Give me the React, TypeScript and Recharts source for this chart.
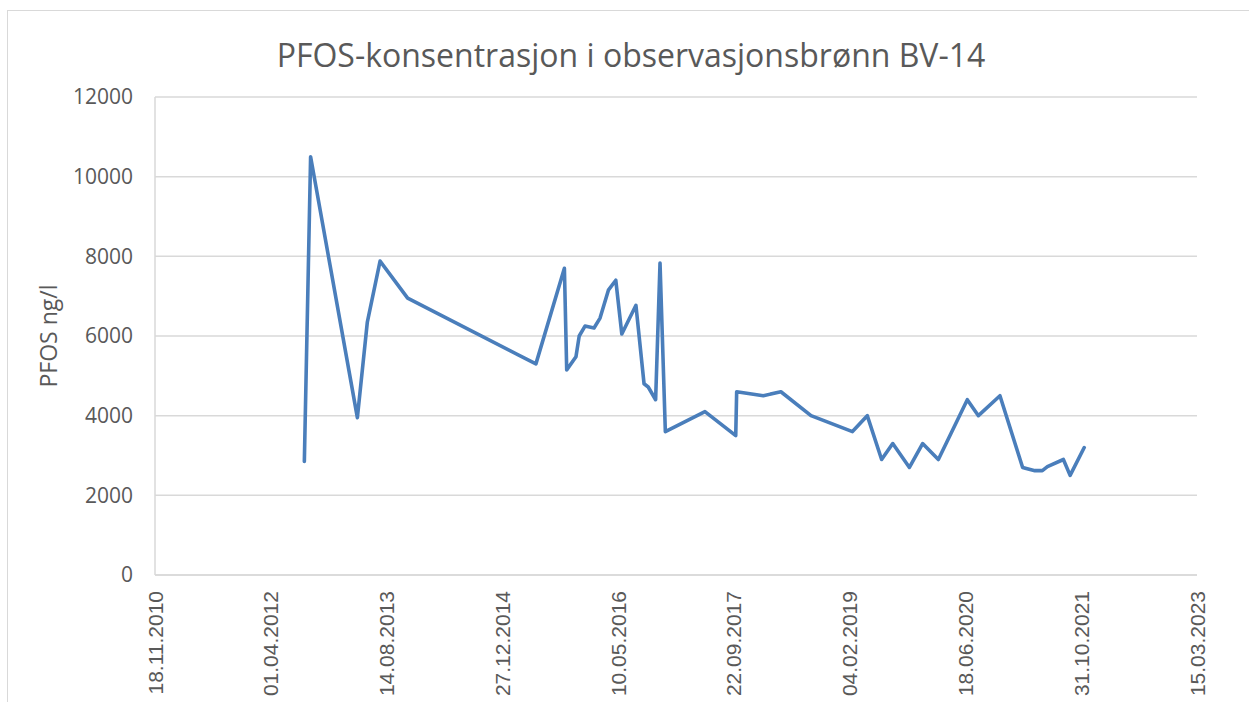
import React from "react";
import { LineChart, Line, XAxis, YAxis, CartesianGrid } from "recharts";

// Sample dates as Excel day serials (40500 = 18.11.2010)
const sampleDays: number[] = [
  41145, 41172, 41374, 41417, 41472, 41591, 42145, 42268, 42278, 42318,
  42332, 42357, 42396, 42422, 42458, 42490, 42516, 42577, 42612, 42630,
  42662, 42681, 42704, 42875, 43008, 43012, 43127, 43203, 43333, 43512,
  43576, 43638, 43686, 43758, 43815, 43883, 44008, 44056, 44149, 44247,
  44300, 44332, 44354, 44423, 44452, 44513,
];

// PFOS concentration, ng/l
const pfosValues: number[] = [
  2850, 10500, 3950, 6350, 7880, 6950, 5300, 7700, 5150, 5480,
  6000, 6250, 6200, 6450, 7150, 7400, 6050, 6770, 4800, 4720,
  4400, 7830, 3600, 4100, 3500, 4600, 4500, 4600, 4000, 3600,
  4000, 2900, 3300, 2700, 3300, 2900, 4400, 4000, 4500, 2700,
  2620, 2620, 2720, 2900, 2500, 3200,
];

const xTicks: number[] = [40500, 41000, 41500, 42000, 42500, 43000, 43500, 44000, 44500, 45000];
const yTicks: number[] = [0, 2000, 4000, 6000, 8000, 10000, 12000];

const title = "PFOS-konsentrasjon i observasjonsbrønn BV-14";
const yLabel = "PFOS ng/l";

const data = sampleDays.map((d, i) => ({ x: d, v: pfosValues[i] }));

function serialToLabel(serial: number): string {
  const ms = Date.UTC(1899, 11, 30) + serial * 86400000;
  const dt = new Date(ms);
  const dd = String(dt.getUTCDate()).padStart(2, "0");
  const mm = String(dt.getUTCMonth() + 1).padStart(2, "0");
  return `${dd}.${mm}.${dt.getUTCFullYear()}`;
}

const XTick = (props: any) => {
  const { x, y, payload } = props;
  return (
    <text
      x={x}
      y={y}
      transform={`rotate(-90, ${x}, ${y})`}
      textAnchor="end"
      dy="0.36em"
      fill="#595959"
      fontSize={21}
      fontFamily="'Liberation Sans', Arial, sans-serif"
    >
      {serialToLabel(payload.value)}
    </text>
  );
};

export default function App() {
  return (
    <div
      style={{
        position: "fixed",
        left: 7,
        top: 10,
        width: 1250,
        height: 700,
        border: "1px solid #d9d9d9",
        background: "#fff",
      }}
    >
      <div
        style={{
          position: "absolute",
          left: 0,
          top: 22,
          width: 1246,
          textAlign: "center",
          fontFamily: "'Open Sans', sans-serif",
          fontSize: 32,
          lineHeight: "44px",
          color: "#595959",
          whiteSpace: "nowrap",
        }}
      >
        {title}
      </div>
      <div
        style={{
          position: "absolute",
          left: 40,
          top: 325,
          transform: "translate(-50%, -50%) rotate(-90deg)",
          fontFamily: "'Open Sans', sans-serif",
          fontSize: 23,
          color: "#595959",
          whiteSpace: "nowrap",
        }}
      >
        {yLabel}
      </div>
      <div style={{ position: "absolute", left: 0, top: 0 }}>
        <LineChart
          width={1240}
          height={690}
          data={data}
          margin={{ top: 86, right: 51, bottom: 6, left: 87 }}
        >
          <CartesianGrid vertical={false} stroke="#d9d9d9" strokeWidth={1.5} />
          <XAxis
            dataKey="x"
            type="number"
            domain={[40500, 45000]}
            ticks={xTicks}
            interval={0}
            allowDataOverflow
            height={120}
            tickLine={false}
            tickMargin={10}
            axisLine={{ stroke: "#d9d9d9", strokeWidth: 1.5 }}
            tick={<XTick />}
          />
          <YAxis
            type="number"
            domain={[0, 12000]}
            ticks={yTicks}
            interval={0}
            width={60}
            tickLine={false}
            tickMargin={16}
            axisLine={{ stroke: "#d9d9d9", strokeWidth: 1.5 }}
            tick={{ fill: "#595959", fontSize: 21, fontFamily: "'Open Sans', sans-serif" }}
          />
          <Line
            type="linear"
            dataKey="v"
            stroke="#4a7ebb"
            strokeWidth={3.6}
            dot={false}
            isAnimationActive={false}
            strokeLinejoin="round"
            strokeLinecap="round"
          />
        </LineChart>
      </div>
    </div>
  );
}
